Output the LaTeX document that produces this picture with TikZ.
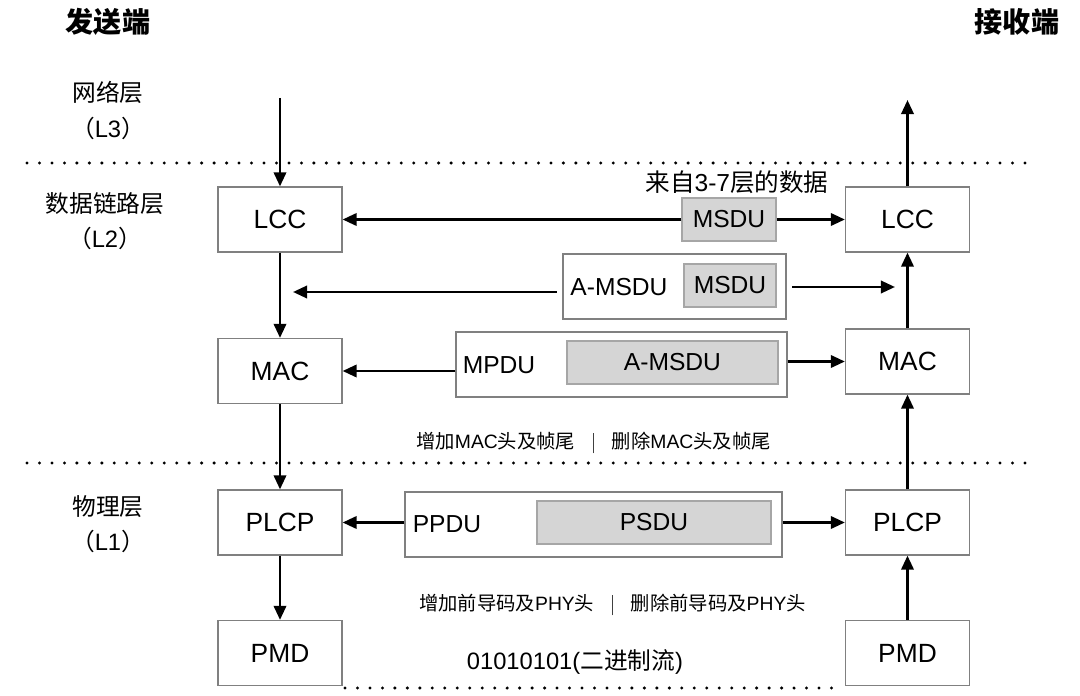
\documentclass[tikz,border=0pt]{standalone}
\usepackage{fontspec}
\setmainfont{Liberation Sans}
\newfontfamily\cjk{Noto Sans CJK SC}
\newcommand{\zh}[1]{{\cjk #1}}
\newcommand{\vbar}{\textcolor{darkgray}{\rule[-0.09cm]{0.9pt}{0.4cm}}}
\usetikzlibrary{arrows.meta}

\begin{document}
\begin{tikzpicture}[x=0.02cm,y=-0.02cm,
  blk/.style={draw=gray,line width=0.7pt,minimum width=2.48cm,minimum height=1.3cm,font=\fontsize{15}{18}\selectfont},
  pdubox/.style={draw=gray,line width=0.7pt,minimum height=1.3cm},
  pkt/.style={draw=gray!70,fill=gray!33,line width=0.7pt,minimum height=0.86cm,font=\fontsize{14}{17}\selectfont},
  lbl/.style={font=\fontsize{14}{17}\selectfont},
  title/.style={font=\fontsize{16}{19}\selectfont\cjk\bfseries},
  layername/.style={font=\fontsize{13.5}{20}\selectfont,align=center},
  remark/.style={font=\fontsize{11}{13}\selectfont},
  arr/.style={line width=1.5pt,-{Triangle[length=8pt,width=7pt]}},
  dotline/.style={line width=1.9pt,line cap=round,dash pattern=on 0pt off 7.1pt}]
\useasboundingbox (0,0) rectangle (1080,696);
\node[title] (tx) at (108,22) {发送端};
\node[title] (rx) at (1017,22) {接收端};
\node[layername] (l3) at (108,110.5) {\zh{网络层}\\\zh{（}L3\zh{）}};
\node[layername] (l2) at (105,221) {\zh{数据链路层}\\\zh{（}L2\zh{）}};
\node[layername] (l1) at (108,524.5) {\zh{物理层}\\\zh{（}L1\zh{）}};
\draw[dotline] (27,163) -- (1030,163);
\draw[dotline] (27,463) -- (1030,463);
\draw[dotline] (345,688) -- (840,688);
\node[blk] (lccS) at (280,219.5) {LCC};
\node[blk] (macS) at (280,371) {MAC};
\node[blk] (plcpS) at (280,522.5) {PLCP};
\node[blk] (pmdS) at (280,653) {PMD};
\node[blk] (lccR) at (907.5,219.5) {LCC};
\node[blk] (macR) at (907.5,361.5) {MAC};
\node[blk] (plcpR) at (907.5,522.5) {PLCP};
\node[blk] (pmdR) at (907.5,653) {PMD};
\node[lbl] (src) at (737,182) {\zh{来自}3-7\zh{层的数据}};
\node[pkt,minimum width=1.88cm] (msdu) at (729,219.5) {MSDU};
\node[pdubox,minimum width=4.46cm,outer sep=0.13cm] (amsduF) at (674.5,286.5) {};
\node[pkt,minimum width=1.84cm] (amsduIn) at (730,285.5) {MSDU};
\node[lbl] (amsduT) at (619,287) {A-MSDU};
\node[pdubox,minimum width=6.62cm] (mpduF) at (621.5,364.5) {};
\node[pkt,minimum width=4.22cm] (mpduIn) at (672.5,362.5) {A-MSDU};
\node[lbl] (mpduT) at (499,365) {MPDU};
\node[pdubox,minimum width=7.54cm] (ppduF) at (593.5,524.5) {};
\node[pkt,minimum width=4.68cm] (psdu) at (654,522.5) {PSDU};
\node[lbl] (ppduT) at (447,524) {PPDU};
\node[remark] (macNote) at (593.5,443) {\zh{增加}MAC\zh{头及帧尾}\hspace{0.35cm}\vbar\hspace{0.35cm}\zh{删除}MAC\zh{头及帧尾}};
\node[remark] (phyNote) at (612.5,605) {\zh{增加前导码及}PHY\zh{头}\hspace{0.35cm}\vbar\hspace{0.35cm}\zh{删除前导码及}PHY\zh{头}};
\node[layername] (bits) at (575,662) {01010101(\zh{二进制流})};
\coordinate (inS) at (280,98);
\coordinate (outR) at (907.5,100);
\coordinate (amsduL) at (293,292);
\coordinate (amsduR) at (895,287);
\draw[arr] (inS) -- (lccS);
\draw[arr] (lccS) -- (macS);
\draw[arr] (macS) -- (plcpS);
\draw[arr] (plcpS) -- (pmdS);
\draw[arr] (pmdR) -- (plcpR);
\draw[arr] (plcpR) -- (macR);
\draw[arr] (macR) -- (lccR);
\draw[arr] (lccR) -- (outR);
\draw[arr] (msdu) -- (lccS);
\draw[arr] (msdu) -- (lccR);
\draw[arr] (amsduF.west |- amsduL) -- (amsduL);
\draw[arr] (amsduF.east |- amsduR) -- (amsduR);
\draw[arr] (mpduF.west |- macS) -- (macS);
\draw[arr] (mpduF.east |- macR) -- (macR);
\draw[arr] (ppduF.west |- plcpS) -- (plcpS);
\draw[arr] (ppduF.east |- plcpR) -- (plcpR);
\end{tikzpicture}
\end{document}
